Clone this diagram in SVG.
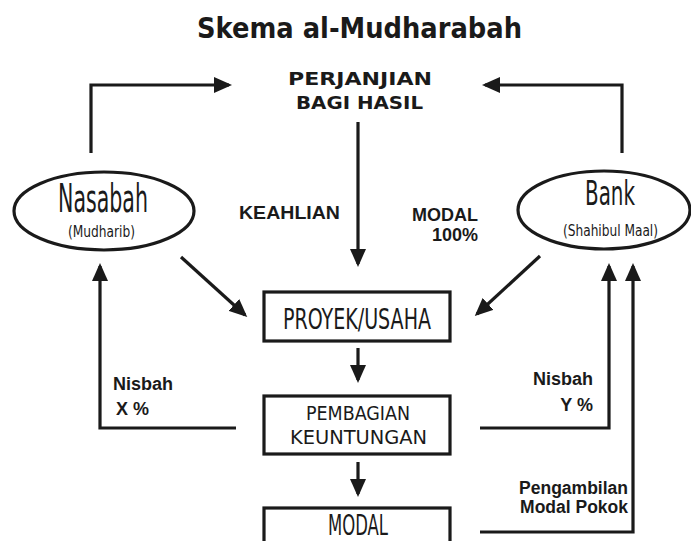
<svg xmlns="http://www.w3.org/2000/svg" width="691" height="541" viewBox="0 0 691 541">
<defs>
<marker id="ah" markerUnits="userSpaceOnUse" markerWidth="18" markerHeight="16" refX="15" refY="8" orient="auto">
<path d="M0,0 L18,8 L0,16 z" fill="#1a1a1a"/>
</marker>
<style>
.ln{fill:none;stroke:#1a1a1a;stroke-width:3.2}
.ar{marker-end:url(#ah)}
.box{fill:#fff;stroke:#1a1a1a;stroke-width:3.2}
.nar{font-family:"Liberation Sans Narrow","DejaVu Sans Condensed","Liberation Sans",sans-serif;fill:#1a1a1a}
.bld{font-family:"Liberation Sans",Arial,sans-serif;font-weight:bold;fill:#1a1a1a}
.ttl{font-family:"DejaVu Sans","Liberation Sans",sans-serif;font-weight:bold;fill:#1a1a1a}
</style>
</defs>
<rect width="691" height="541" fill="#fff"/>
<text class="ttl" x="197" y="38" font-size="29" textLength="325" lengthAdjust="spacingAndGlyphs">Skema al-Mudharabah</text>
<g id="perjanjian">
<text class="ttl" x="288" y="85" font-size="17" textLength="144" lengthAdjust="spacingAndGlyphs">PERJANJIAN</text>
<text class="ttl" x="296" y="109" font-size="17" textLength="127" lengthAdjust="spacingAndGlyphs">BAGI HASIL</text>
</g>
<g id="connectors">
<polyline class="ln ar" points="91,153 91,85 229,85"/>
<polyline class="ln ar" points="622,153 622,85 485,85"/>
<line class="ln ar" x1="358" y1="122" x2="358" y2="264"/>
<line class="ln ar" x1="181" y1="257" x2="245" y2="315"/>
<line class="ln ar" x1="540" y1="256" x2="477" y2="314"/>
<line class="ln ar" x1="358" y1="348" x2="358" y2="380"/>
<line class="ln ar" x1="358" y1="462" x2="358" y2="494"/>
<polyline class="ln ar" points="236,428 100,428 100,266"/>
<polyline class="ln ar" points="480,428 609,428 609,266"/>
<polyline class="ln ar" points="480,532 633,532 633,266"/>
</g>
<g id="labels">
<text class="bld" x="239" y="219" font-size="18.5" textLength="101" lengthAdjust="spacingAndGlyphs">KEAHLIAN</text>
<text class="bld" x="478" y="221" font-size="18" text-anchor="end">MODAL</text>
<text class="bld" x="478" y="241" font-size="18" text-anchor="end">100%</text>
<text class="bld" x="113" y="390" font-size="18">Nisbah</text>
<text class="bld" x="116" y="415" font-size="18">X %</text>
<text class="bld" x="593" y="385" font-size="18" text-anchor="end">Nisbah</text>
<text class="bld" x="593" y="411" font-size="18" text-anchor="end">Y %</text>
<text class="bld" x="628" y="494" font-size="17.5" text-anchor="end">Pengambilan</text>
<text class="bld" x="628" y="513" font-size="17.5" text-anchor="end">Modal Pokok</text>
</g>
<g id="nasabah">
<ellipse class="box" cx="104" cy="211" rx="90" ry="39"/>
<text class="nar" x="58" y="212" font-size="39" textLength="90" lengthAdjust="spacingAndGlyphs">Nasabah</text>
<text class="nar" x="68" y="237" font-size="16" textLength="67" lengthAdjust="spacingAndGlyphs">(Mudharib)</text>
</g>
<g id="bank">
<ellipse class="box" cx="604" cy="210" rx="86" ry="39"/>
<text class="nar" x="585" y="205" font-size="34" textLength="50" lengthAdjust="spacingAndGlyphs">Bank</text>
<text class="nar" x="563" y="236" font-size="16" textLength="95" lengthAdjust="spacingAndGlyphs">(Shahibul Maal)</text>
</g>
<g id="proyek">
<rect class="box" x="264" y="292" width="186" height="49"/>
<text class="nar" x="283" y="329" font-size="29" textLength="148" lengthAdjust="spacingAndGlyphs">PROYEK/USAHA</text>
</g>
<g id="pembagian">
<rect class="box" x="264" y="396" width="186" height="58"/>
<text class="nar" x="306" y="420" font-size="20" textLength="104" lengthAdjust="spacingAndGlyphs">PEMBAGIAN</text>
<text class="nar" x="290" y="444" font-size="20" textLength="137" lengthAdjust="spacingAndGlyphs">KEUNTUNGAN</text>
</g>
<g id="modal">
<rect class="box" x="264" y="508" width="186" height="50"/>
<text class="nar" x="328" y="535" font-size="29" textLength="60" lengthAdjust="spacingAndGlyphs">MODAL</text>
</g>
</svg>
